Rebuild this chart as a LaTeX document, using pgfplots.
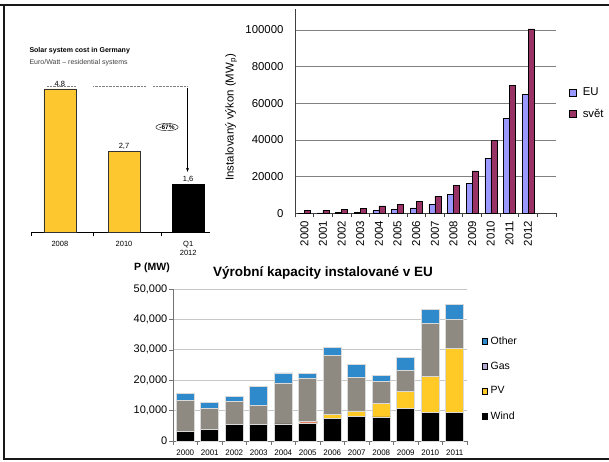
\documentclass[border=0pt]{standalone}
\usepackage{fontspec}
\setmainfont{Liberation Sans}
\usepackage{pgfplots}
\usepackage{pgfplotstable}
\pgfplotsset{compat=1.18}
\usetikzlibrary{arrows.meta,shapes.geometric}

\definecolor{solyel}{HTML}{FDC82F}
\definecolor{euc}{HTML}{9999FF}
\definecolor{svc}{HTML}{993366}
\definecolor{pvc}{HTML}{FFC926}
\definecolor{gasc}{HTML}{8E8A82}
\definecolor{othc}{HTML}{2E8ACB}
\definecolor{orc}{HTML}{E8805F}
\definecolor{gasleg}{HTML}{B4A7CF}

\pgfplotstableread{
x eu svet
0 150 1450
1 250 1750
2 400 2200
3 600 2500
4 1500 4000
5 2200 5000
6 3000 6700
7 4900 9300
8 10300 15300
9 16500 23100
10 30000 39800
11 51800 69800
12 64700 100500
}\pvtable

\pgfplotstableread{
x wind pv orange gas other
0 3000 0 0 10200 2400
1 3900 0 0 6900 2000
2 5500 0 0 7400 1900
3 5300 0 0 6500 6000
4 5600 0 0 13500 3300
5 5900 0 700 14100 1500
6 7400 1300 0 19500 2700
7 8200 1700 0 10900 4300
8 7900 4400 0 7400 2000
9 10800 5500 0 6800 4400
10 9400 11900 0 17500 4400
11 9400 21000 0 9700 4700
}\captable

\begin{document}
\begin{tikzpicture}
\path[use as bounding box] (0pt,0pt) rectangle (609pt,461pt);
\draw[line width=2.2pt, black!90] (0pt,456pt) -- (609pt,456pt);
\draw[line width=2pt, black!90] (4pt,456pt) -- (4pt,2pt) -- (609pt,2pt);

% ---------- left chart ----------
\node[anchor=west, font=\bfseries\fontsize{7}{8}\selectfont] at (26pt,410pt) {Solar system cost in Germany};
\node[anchor=west, font=\fontsize{7}{8}\selectfont, text=black!75] at (26pt,398pt) {Euro/Watt -- residential systems};
\begin{axis}[
  at={(31pt,229pt)}, anchor=south west, scale only axis,
  width=179pt, height=149pt,
  xmin=-0.45, xmax=2.34, ymin=0, ymax=5,
  axis y line=none, axis x line*=bottom, axis line style={-, black, line width=0.9pt},
  ytick=\empty,
  xtick={0,1,2}, xticklabels={2008,2010,{Q1\\2012}},
  xticklabel style={align=center, font=\fontsize{7.5}{8.5}\selectfont, yshift=-6pt},
  major tick length=0pt,
  extra x ticks={-0.45,0.53,1.58}, extra x tick labels={},
  extra x tick style={major tick length=4pt, tick align=outside, tick style={black, line width=0.8pt}},
  clip=false,
  nodes near coords, point meta=explicit symbolic,
  every node near coord/.append style={font=\fontsize{7.5}{8.5}\selectfont, inner sep=1.5pt},
]
\addplot[ybar, bar width=32pt, bar shift=0pt, fill=solyel, draw=black!80] table[x=x, y=y, meta=lab] {
x y lab
0 4.8 4,8
1 2.7 2,7
};
\addplot[ybar, bar width=32pt, bar shift=0pt, fill=black, draw=black] table[x=x, y=y, meta=lab] {
x y lab
2 1.6 1,6
};
\draw[densely dotted, gray] (axis cs:-0.2,4.88) -- (axis cs:0.25,4.88);
\draw[densely dotted, gray] (axis cs:0.52,4.88) -- (axis cs:1.33,4.88);
\draw[densely dotted, gray] (axis cs:1.45,4.88) -- (axis cs:1.98,4.88);
\draw[-{Stealth[length=4pt,width=3pt]}, line width=0.5pt] (axis cs:1.99,4.82) -- (axis cs:1.99,2.02);
\node[ellipse, draw, inner sep=0.3pt, font=\bfseries\fontsize{6.5}{7.5}\selectfont] at (axis cs:1.67,3.52) {-67\%};
\end{axis}

% ---------- top right chart ----------
\begin{axis}[
  at={(295pt,247.7pt)}, anchor=south west, scale only axis,
  width=261pt, height=204.3pt,
  xmin=-0.5, xmax=13.5, ymin=0, ymax=111400,
  ybar=0pt, bar width=6pt,
  axis x line*=bottom, axis y line*=left, axis line style={-, black!75, line width=0.6pt},
  ymajorgrids, grid style={black!50, line width=0.6pt},
  ytick={0,20000,40000,60000,80000,100000},
  yticklabels={0,20000,40000,60000,80000,100000},
  scaled y ticks=false,
  xtick={-0.5,0.5,...,13.5},
  xticklabels={2000,2001,2002,2003,2004,2005,2006,2007,2008,2009,2010,2011,2012,{}},
  x tick label as interval,
  x tick label style={rotate=90, anchor=east},
  xtick style={black!75, line width=0.6pt},
  ytick style={draw=none},
  tick align=outside, major tick length=4pt,
  tick label style={font=\fontsize{11.4}{12}\selectfont},
  yticklabel style={xshift=-4pt},
  ylabel={Instalovaný výkon (MW\textsubscript{p})},
  ylabel style={at={(axis description cs:-0.245,0.47)}, anchor=center, font=\fontsize{11.4}{12}\selectfont},
  legend style={at={(1.05,0.625)}, anchor=north west, draw=none, fill=none,
    font=\fontsize{11.4}{12}\selectfont, row sep=8pt, inner sep=0pt,
    /tikz/every odd column/.append style={column sep=4pt}},
  legend cell align=left,
  legend image code/.code={\draw[#1, draw=black, line width=0.5pt] (0pt,-3.5pt) rectangle (7pt,3.5pt);},
]
\addplot[fill=euc, draw=black, line width=0.5pt] table[x=x, y=eu] {\pvtable};
\addplot[fill=svc, draw=black, line width=0.5pt] table[x=x, y=svet] {\pvtable};
\legend{EU, svět}
\end{axis}

% ---------- bottom chart ----------
\node[font=\bfseries\fontsize{10.5}{12}\selectfont] at (152pt,193pt) {P (MW)};
\begin{axis}[
  at={(173pt,20pt)}, anchor=south west, scale only axis,
  width=294pt, height=152pt,
  xmin=-0.5, xmax=11.5, ymin=0, ymax=50000,
  ybar stacked, bar width=18pt,
  axis x line*=bottom, axis y line*=left, axis line style={-, black!55, line width=0.8pt},
  ymajorgrids, grid style={black!22, line width=0.9pt},
  ytick={0,10000,20000,30000,40000,50000},
  yticklabels={0,{10,000},{20,000},{30,000},{40,000},{50,000}},
  scaled y ticks=false,
  xtick={-0.5,0.5,...,11.5},
  xticklabels={2000,2001,2002,2003,2004,2005,2006,2007,2008,2009,2010,2011},
  x tick label as interval,
  tick align=outside, major tick length=4pt,
  tick style={black!55, line width=0.6pt},
  xticklabel style={font=\fontsize{8}{9}\selectfont, yshift=-1pt},
  yticklabel style={font=\fontsize{11}{12}\selectfont, inner sep=1.5pt},
  title={\bfseries Výrobní kapacity instalované v EU},
  title style={at={(axis description cs:0.51,1)}, anchor=south, yshift=0pt, font=\fontsize{13.5}{15}\selectfont},
  legend style={at={(1.05,0.7)}, anchor=north west, draw=none, fill=none,
    font=\fontsize{10.5}{12}\selectfont, row sep=12pt, inner sep=0pt,
    /tikz/every odd column/.append style={column sep=1pt}},
  legend cell align=left,
  legend image code/.code={\fill[#1] (0pt,-2.7pt) rectangle (5.4pt,2.7pt);},
]
\addplot[forget plot, fill=black, draw=black!15, line width=0.8pt] table[x=x, y=wind] {\captable};
\addplot[forget plot, fill=pvc, draw=black!15, line width=0.8pt] table[x=x, y=pv] {\captable};
\addplot[forget plot, fill=orc, draw=black!15, line width=0.4pt] table[x=x, y=orange] {\captable};
\addplot[forget plot, fill=gasc, draw=black!15, line width=0.8pt] table[x=x, y=gas] {\captable};
\addplot[forget plot, fill=othc, draw=black!15, line width=0.8pt] table[x=x, y=other] {\captable};
\addlegendimage{fill=othc}
\addlegendentry{Other}
\addlegendimage{fill=gasleg}
\addlegendentry{Gas}
\addlegendimage{fill=pvc}
\addlegendentry{PV}
\addlegendimage{fill=black}
\addlegendentry{Wind}
\end{axis}
\end{tikzpicture}
\end{document}
